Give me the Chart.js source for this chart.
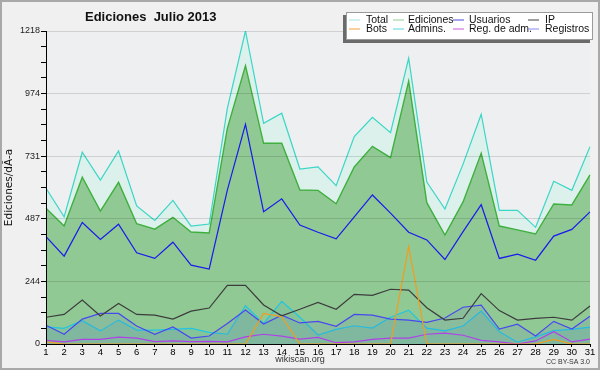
<!DOCTYPE html>
<html>
<head>
<meta charset="utf-8">
<script src="https://cdn.jsdelivr.net/npm/chart.js@4.4.1/dist/chart.umd.min.js"></script>
<style>
html,body{margin:0;padding:0;background:#f0f0f0;}
canvas{display:block;}
</style>
</head>
<body>
<canvas id="c" width="600" height="370"></canvas>
<script>
// ---- data ----
const days = ['1','2','3','4','5','6','7','8','9','10','11','12','13','14','15','16','17','18','19','20','21','22','23','24','25','26','27','28','29','30','31'];
const total     = [606,495,746,638,751,537,481,559,459,467,917,1218,859,898,681,689,616,807,882,822,1112,630,525,700,894,520,520,454,633,598,768];
const ediciones = [528,459,649,517,629,468,447,493,436,432,839,1083,781,781,599,598,546,689,769,725,1023,550,424,553,742,459,444,428,545,541,658];
const usuarios  = [418,342,473,407,466,355,333,396,307,292,599,855,515,565,463,435,409,495,580,509,435,405,329,437,542,333,350,326,420,446,514];
const ip        = [104,115,171,109,158,115,112,97,128,140,228,228,152,110,135,162,135,193,189,213,210,141,93,100,196,130,93,100,104,93,148];
const bots      = [8,0,0,0,0,0,0,0,0,0,0,0,119,106,0,0,0,0,0,0,379,0,0,0,0,0,0,0,18,0,0];
const admins    = [67,61,91,51,93,54,54,57,61,45,38,149,80,166,104,35,57,71,62,104,132,62,51,70,128,48,7,28,52,57,66];
const regAdm    = [14,8,18,18,27,23,9,12,9,10,8,28,38,31,19,26,5,8,18,23,23,38,42,34,14,8,0,12,48,8,19];
const registros = [73,38,97,119,119,70,38,66,23,31,80,132,78,112,82,88,69,115,112,97,93,84,101,143,151,58,77,31,88,58,108];
const yTickLabels = ['0','244','487','731','974','1218'];
const yMax = 1218;
const seriesNames = ['Total','Ediciones','Usuarios','IP','Bots','Admins.','Reg. de adm.','Registros'];
const titleText = 'Ediciones  Julio 2013';
const yTitle = 'Ediciones/dÃ-a';

const FONT = "'Liberation Sans', Arial, sans-serif";
const legendColors = ['#a8e6dc','#8fd08f','#4c4cdc','#404040','#f5a040','#55d5e0','#cc55dd','#8888ee'];

function ds(i, data, color, extra) {
  return Object.assign({
    label: seriesNames[i], data: data, borderColor: color, borderWidth: 1.2,
    pointRadius: 0, tension: 0, fill: false, legendColor: legendColors[i]
  }, extra || {});
}

const datasets = [
  ds(0, total, '#3ad6c6', {fill: 'origin', backgroundColor: '#dcf1eb', order: 10}),
  ds(1, ediciones, '#3fb03f', {fill: 'origin', backgroundColor: '#90c994', order: 9, borderWidth: 1.4}),
  ds(2, usuarios, '#1a1aee', {order: 3}),
  ds(3, ip, '#3c3c3c', {order: 4}),
  ds(4, bots, '#f39c1e', {order: 1}),
  ds(5, admins, '#22c6e0', {fill: 'origin', backgroundColor: 'rgba(40,150,200,0.10)', order: 6}),
  ds(6, regAdm, '#b040e8', {order: 2}),
  ds(7, registros, '#4848f0', {fill: 'origin', backgroundColor: 'rgba(90,90,230,0.10)', order: 5})
];

const decor = {
  id: 'decor',
  beforeDraw(chart) {
    const ctx = chart.ctx, a = chart.chartArea;
    ctx.save();
    ctx.fillStyle = '#f0f0f0';
    ctx.fillRect(0, 0, chart.width, chart.height);
    ctx.fillStyle = '#edeff0';
    ctx.fillRect(a.left, a.top, a.right - a.left, a.bottom - a.top);
    ctx.strokeStyle = '#a9a9a9';
    ctx.lineWidth = 2;
    ctx.strokeRect(1, 1, chart.width - 2, chart.height - 2);
    ctx.restore();
  },
  afterDraw(chart) {
    const ctx = chart.ctx;
    ctx.save();
    // title
    ctx.fillStyle = '#111';
    ctx.font = 'bold 13px ' + FONT;
    ctx.textAlign = 'left';
    ctx.textBaseline = 'alphabetic';
    ctx.fillText(titleText, 85, 21);
    // legend box
    const bx = 346, by = 12, bw = 247, bh = 28;
    ctx.fillStyle = '#6a6a6a';
    ctx.fillRect(bx - 3, by + 3, bw, bh);
    ctx.fillStyle = '#ffffff';
    ctx.fillRect(bx, by, bw, bh);
    ctx.strokeStyle = '#9a9a9a';
    ctx.lineWidth = 1;
    ctx.strokeRect(bx + 0.5, by + 0.5, bw - 1, bh - 1);
    const colSw = [349, 393, 453, 528];
    const colTx = [366, 408, 469, 545];
    const rowY = [19.5, 28.5];
    ctx.font = '10.5px ' + FONT;
    ctx.textBaseline = 'middle';
    chart.data.datasets.forEach((d, i) => {
      const c = i % 4, r = Math.floor(i / 4);
      ctx.strokeStyle = d.legendColor;
      ctx.lineWidth = 1;
      ctx.beginPath();
      ctx.moveTo(colSw[c], rowY[r] + 0.5);
      ctx.lineTo(colSw[c] + 11, rowY[r] + 0.5);
      ctx.stroke();
      ctx.fillStyle = '#111';
      ctx.fillText(d.label, colTx[c], rowY[r] + 0.5);
    });
    // footer
    ctx.fillStyle = '#333';
    ctx.font = '9px ' + FONT;
    ctx.textAlign = 'center';
    ctx.fillText('wikiscan.org', 300, 360);
    ctx.font = '7px ' + FONT;
    ctx.textAlign = 'right';
    ctx.fillText('CC BY-SA 3.0', 590, 362);
    ctx.restore();
  }
};

new Chart(document.getElementById('c'), {
  type: 'line',
  data: { labels: days, datasets: datasets },
  plugins: [decor],
  options: {
    responsive: false,
    animation: false,
    devicePixelRatio: 1,
    layout: { padding: { top: 31, right: 10, left: 0, bottom: 0 } },
    plugins: { legend: { display: false }, title: { display: false }, tooltip: { enabled: false } },
    scales: {
      x: {
        type: 'category',
        offset: false,
        afterFit: s => { s.height = 26; },
        grid: { drawOnChartArea: false, color: '#000', tickLength: 3 },
        border: { color: '#000', z: 1 },
        ticks: { color: '#000', font: { size: 9.5, family: FONT }, padding: 0, maxRotation: 0, autoSkip: false }
      },
      y: {
        min: 0, max: yMax,
        afterFit: s => { s.width = 46; },
        afterBuildTicks: s => {
          const t = [];
          for (let i = 0; i <= 20; i++) t.push({ value: yMax * i / 20 });
          s.ticks = t;
        },
        grid: {
          z: 1,
          color: c => (c.index % 4 === 0 && c.index > 0) ? 'rgba(0,0,0,0.13)' : 'rgba(0,0,0,0)',
          tickColor: '#000',
          tickLength: 5
        },
        border: { color: '#000', z: 1 },
        ticks: {
          color: '#222',
          font: { size: 9, family: FONT },
          padding: 1,
          callback: (v, i) => (i % 4 === 0 ? yTickLabels[i / 4] : '')
        },
        title: { display: true, text: yTitle, color: '#111', font: { size: 10.5, family: "'DejaVu Sans', sans-serif" }, padding: { top: 3, bottom: 0 } }
      }
    }
  }
});
</script>
</body>
</html>
